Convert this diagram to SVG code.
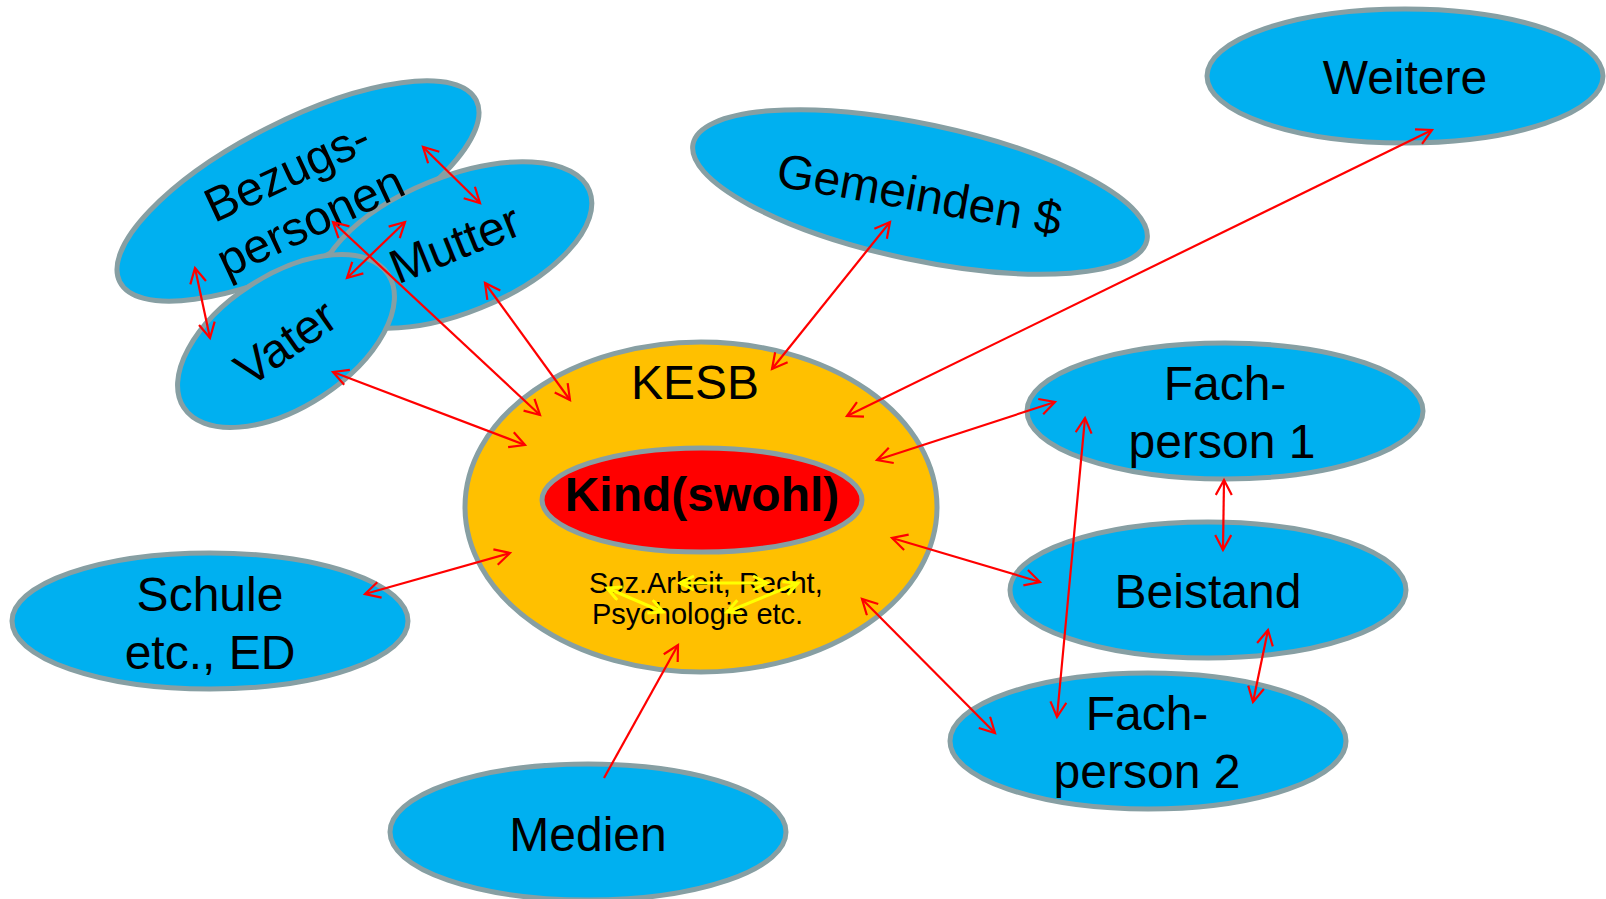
<svg xmlns="http://www.w3.org/2000/svg" width="1606" height="899" viewBox="0 0 1606 899">
<defs>
<style>
.n{fill:#00B0F0;stroke:#879FA3;stroke-width:5}
.t{font-family:"Liberation Sans",Arial,sans-serif;font-size:48px;fill:#000;text-anchor:middle}
.s{font-family:"Liberation Sans",Arial,sans-serif;font-size:29px;fill:#000}
.r{stroke:#FF0000;stroke-width:2.2;fill:none}
.y{stroke:#FFFF00;stroke-width:3;fill:none}
</style>
<marker id="ah" markerWidth="20" markerHeight="20" refX="17" refY="9" orient="auto-start-reverse" markerUnits="userSpaceOnUse"><path d="M2,1 L17,9 L2,17" fill="none" stroke="#FF0000" stroke-width="2.2"/></marker>
<marker id="yh" markerWidth="18" markerHeight="18" refX="15" refY="8" orient="auto-start-reverse" markerUnits="userSpaceOnUse"><path d="M1,1 L15,8 L1,15" fill="none" stroke="#FFFF00" stroke-width="3"/></marker>
</defs>
<rect width="1606" height="899" fill="#fff"/>

<g id="weitere"><ellipse class="n" cx="1405" cy="76" rx="198" ry="67"/><text class="t" x="1405" y="94">Weitere</text></g>
<g id="gemeinden"><ellipse class="n" cx="920" cy="192" rx="232" ry="68" transform="rotate(12 920 192)"/><text class="t" transform="translate(920,192) rotate(10)" x="0" y="19">Gemeinden $</text></g>
<g id="bezugspersonen"><ellipse class="n" cx="298" cy="191" rx="200" ry="70" transform="rotate(-27 298 191)"/></g>
<g id="mutter"><ellipse class="n" cx="455" cy="245" rx="145" ry="68" transform="rotate(-22 455 245)"/><text class="t" transform="translate(461,259) rotate(-22)" x="0" y="0">Mutter</text></g>
<g id="vater"><ellipse class="n" cx="286" cy="341" rx="122" ry="66" transform="rotate(-33 286 341)"/><text class="t" transform="translate(295,356) rotate(-35)" x="0" y="0">Vater</text></g>
<g id="bezugspersonen-label"><text class="t" transform="translate(294,186) rotate(-25)"><tspan x="0" y="0">Bezugs-</tspan><tspan x="0" y="55">personen</tspan></text></g>

<g id="kesb"><ellipse cx="701" cy="507" rx="236" ry="165" fill="#FFC000" stroke="#879FA3" stroke-width="5"/><text class="t" x="695" y="399">KESB</text>
<text class="s" x="589" y="593">Soz.Arbeit, Recht,</text>
<text class="s" x="592" y="624">Psychologie etc.</text></g>
<g id="kind"><ellipse cx="702" cy="500" rx="160" ry="52" fill="#FF0000" stroke="#879FA3" stroke-width="5"/><text class="t" x="702" y="511" style="font-weight:bold">Kind(swohl)</text></g>

<g id="fachperson1"><ellipse class="n" cx="1225" cy="411" rx="198" ry="68"/><text class="t"><tspan x="1225" y="400">Fach-</tspan><tspan x="1222" y="458">person 1</tspan></text></g>
<g id="beistand"><ellipse class="n" cx="1208" cy="590" rx="198" ry="68"/><text class="t" x="1208" y="608">Beistand</text></g>
<g id="fachperson2"><ellipse class="n" cx="1148" cy="741" rx="198" ry="68"/><text class="t"><tspan x="1147" y="730">Fach-</tspan><tspan x="1147" y="788">person 2</tspan></text></g>
<g id="schule"><ellipse class="n" cx="210" cy="621" rx="198" ry="68"/><text class="t"><tspan x="210" y="611">Schule</tspan><tspan x="210" y="669">etc., ED</tspan></text></g>
<g id="medien"><ellipse class="n" cx="588" cy="832" rx="198" ry="68"/><text class="t" x="588" y="851">Medien</text></g>

<g id="connectors">
<line class="r" x1="423" y1="147" x2="480" y2="203" marker-start="url(#ah)" marker-end="url(#ah)"/>
<line class="r" x1="195" y1="268" x2="210" y2="338" marker-start="url(#ah)" marker-end="url(#ah)"/>
<line class="r" x1="347" y1="278" x2="405" y2="222" marker-start="url(#ah)" marker-end="url(#ah)"/>
<line class="r" x1="333" y1="222" x2="540" y2="415" marker-start="url(#ah)" marker-end="url(#ah)"/>
<line class="r" x1="485" y1="283" x2="570" y2="400" marker-start="url(#ah)" marker-end="url(#ah)"/>
<line class="r" x1="333" y1="372" x2="525" y2="445" marker-start="url(#ah)" marker-end="url(#ah)"/>
<line class="r" x1="890" y1="222" x2="772" y2="369" marker-start="url(#ah)" marker-end="url(#ah)"/>
<line class="r" x1="1432" y1="130" x2="847" y2="416" marker-start="url(#ah)" marker-end="url(#ah)"/>
<line class="r" x1="1055" y1="402" x2="877" y2="460" marker-start="url(#ah)" marker-end="url(#ah)"/>
<line class="r" x1="1040" y1="582" x2="892" y2="538" marker-start="url(#ah)" marker-end="url(#ah)"/>
<line class="r" x1="995" y1="733" x2="862" y2="599" marker-start="url(#ah)" marker-end="url(#ah)"/>
<line class="r" x1="365" y1="594" x2="510" y2="553" marker-start="url(#ah)" marker-end="url(#ah)"/>
<line class="r" x1="604" y1="778" x2="678" y2="645" marker-end="url(#ah)"/>
<line class="r" x1="1085" y1="418" x2="1057" y2="717" marker-start="url(#ah)" marker-end="url(#ah)"/>
<line class="r" x1="1224" y1="480" x2="1223" y2="550" marker-start="url(#ah)" marker-end="url(#ah)"/>
<line class="r" x1="1268" y1="630" x2="1253" y2="702" marker-start="url(#ah)" marker-end="url(#ah)"/>
<line class="y" x1="607" y1="588" x2="663" y2="612" marker-start="url(#yh)" marker-end="url(#yh)"/>
<line class="y" x1="680" y1="583" x2="767" y2="583" marker-start="url(#yh)" marker-end="url(#yh)"/>
<line class="y" x1="727" y1="612" x2="798" y2="583" marker-start="url(#yh)" marker-end="url(#yh)"/>
</g>
</svg>
